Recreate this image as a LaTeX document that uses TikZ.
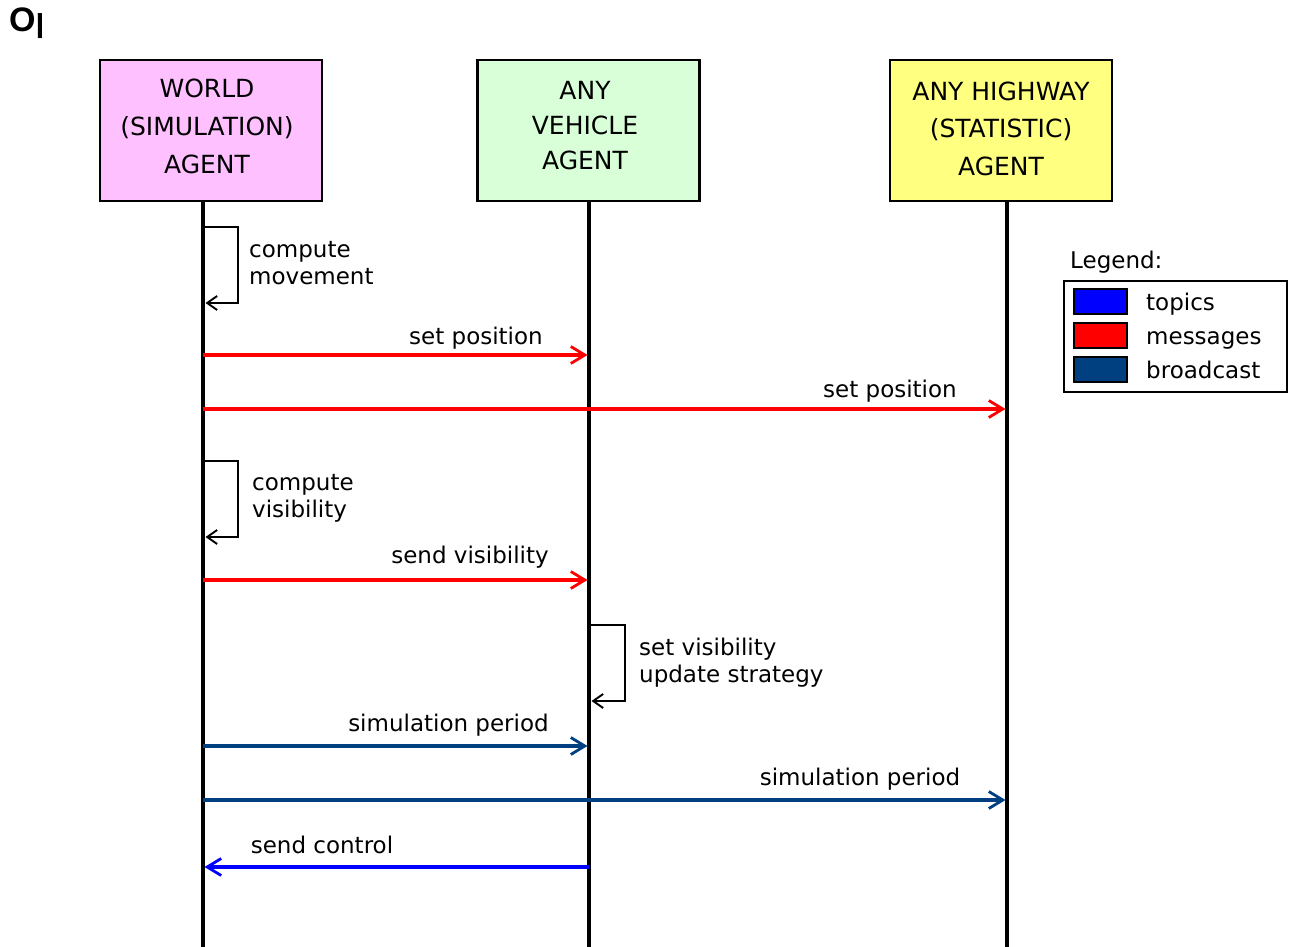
\documentclass[tikz,border=0pt]{standalone}
\usepackage{fontspec}
\setmainfont{DejaVu Sans}
\newfontfamily\titlefont{Liberation Sans}
\usetikzlibrary{arrows.meta}
\definecolor{pinkbox}{RGB}{255,192,255}
\definecolor{greenbox}{RGB}{217,255,217}
\definecolor{yellowbox}{RGB}{255,255,128}
\definecolor{msgred}{RGB}{255,0,0}
\definecolor{topicblue}{RGB}{0,0,255}
\definecolor{bcastblue}{RGB}{0,64,128}
\begin{document}
\begin{tikzpicture}[x=1pt,y=-1pt,
  agent/.style={draw=black, line width=2.6pt, minimum width=222pt, minimum height=141pt, inner sep=0pt},
  agenttext/.style={align=center, inner sep=0pt},
  lifeline/.style={line width=4.4pt},
  msg/.style={line width=3.5pt, -{Straight Barb[length=14pt,width=17pt,line width=2.8pt]}},
  selfloop/.style={line width=1.5pt, -{Straight Barb[length=10pt,width=14pt,line width=1.9pt]}},
  lbl/.style={font=\fontsize{23}{27}\selectfont, inner sep=0pt},
  swatch/.style={draw=black, line width=1.2pt, minimum width=53pt, minimum height=25pt, inner sep=0pt},
]
\useasboundingbox (0,0) rectangle (1294,947);

% title (clipped)
\begin{scope}
  \clip (0,0) rectangle (41,60);
  \node[anchor=base west, inner sep=0pt, font=\fontsize{34}{40}\selectfont\titlefont\bfseries] (title) at (9,32) {Op};
\end{scope}

% agents
\node[agent, fill=pinkbox] (world) at (211,130.5) {};
\node[agent, fill=greenbox] (vehicle) at (588.5,130.5) {};
\node[agent, fill=yellowbox] (highway) at (1001,130.5) {};
\node[agenttext, font=\fontsize{25}{38}\selectfont] (worldtxt) at (207,126) {WORLD\\(SIMULATION)\\AGENT};
\node[agenttext, font=\fontsize{25}{35}\selectfont] (vehicletxt) at (585,126) {ANY\\VEHICLE\\AGENT};
\node[agenttext, font=\fontsize{25}{37.5}\selectfont] (highwaytxt) at (1001,128.5) {ANY HIGHWAY\\(STATISTIC)\\AGENT};

% lifelines
\coordinate (wtop) at (203,201); \coordinate (wbot) at (203,948);
\coordinate (vtop) at (589,201); \coordinate (vbot) at (589,948);
\coordinate (htop) at (1007,201); \coordinate (hbot) at (1007,948);
\draw[lifeline] (wtop) -- (wbot);
\draw[lifeline] (vtop) -- (vbot);
\draw[lifeline] (htop) -- (hbot);

% self loop 1
\coordinate (l1a) at (205,227); \coordinate (l1b) at (205.5,303);
\draw[selfloop] (l1a) -- (238,227) |- (l1b);
\node[lbl, anchor=base west] (l1t1) at (249,257) {compute};
\node[lbl, anchor=base west] (l1t2) at (249,284) {movement};

% set position -> vehicle
\coordinate (m1s) at (203,355); \coordinate (m1e) at (587.5,355);
\draw[msg, msgred] (m1s) -- (m1e);
\node[lbl, anchor=base] (m1t) at (476,344) {set position};

% set position -> highway
\coordinate (m2s) at (203,409); \coordinate (m2e) at (1005.5,409);
\draw[msg, msgred] (m2s) -- (m2e);
\node[lbl, anchor=base] (m2t) at (890,397) {set position};

% self loop 2
\coordinate (l2a) at (205,461); \coordinate (l2b) at (205.5,537);
\draw[selfloop] (l2a) -- (238,461) |- (l2b);
\node[lbl, anchor=base west] (l2t1) at (252,490) {compute};
\node[lbl, anchor=base west] (l2t2) at (252,517) {visibility};

% send visibility
\coordinate (m3s) at (203,580); \coordinate (m3e) at (587.5,580);
\draw[msg, msgred] (m3s) -- (m3e);
\node[lbl, anchor=base] (m3t) at (470,563) {send visibility};

% self loop 3
\coordinate (l3a) at (591,625); \coordinate (l3b) at (591.5,701);
\draw[selfloop] (l3a) -- (625,625) |- (l3b);
\node[lbl, anchor=base west] (l3t1) at (639,655) {set visibility};
\node[lbl, anchor=base west] (l3t2) at (639,682) {update strategy};

% simulation period -> vehicle
\coordinate (m4s) at (203,746); \coordinate (m4e) at (587.5,746);
\draw[msg, bcastblue] (m4s) -- (m4e);
\node[lbl, anchor=base] (m4t) at (448.5,731) {simulation period};

% simulation period -> highway
\coordinate (m5s) at (203,800); \coordinate (m5e) at (1005.5,800);
\draw[msg, bcastblue] (m5s) -- (m5e);
\node[lbl, anchor=base] (m5t) at (860,785) {simulation period};

% send control
\coordinate (m6s) at (589,867); \coordinate (m6e) at (204.5,867);
\draw[msg, topicblue] (m6s) -- (m6e);
\node[lbl, anchor=base] (m6t) at (322,853) {send control};

% legend
\node[lbl, anchor=base west] (legtitle) at (1070,268) {Legend:};
\node[draw=black, line width=1.2pt, minimum width=223pt, minimum height=111pt, inner sep=0pt] (legbox) at (1175.5,336.5) {};
\node[swatch, fill=topicblue] (sw1) at (1100.5,301.5) {};
\node[swatch, fill=msgred] (sw2) at (1100.5,335.5) {};
\node[swatch, fill=bcastblue] (sw3) at (1100.5,369.5) {};
\node[lbl, anchor=base west] (lg1) at (1146,310) {topics};
\node[lbl, anchor=base west] (lg2) at (1146,344) {messages};
\node[lbl, anchor=base west] (lg3) at (1146,378) {broadcast};
\end{tikzpicture}
\end{document}
